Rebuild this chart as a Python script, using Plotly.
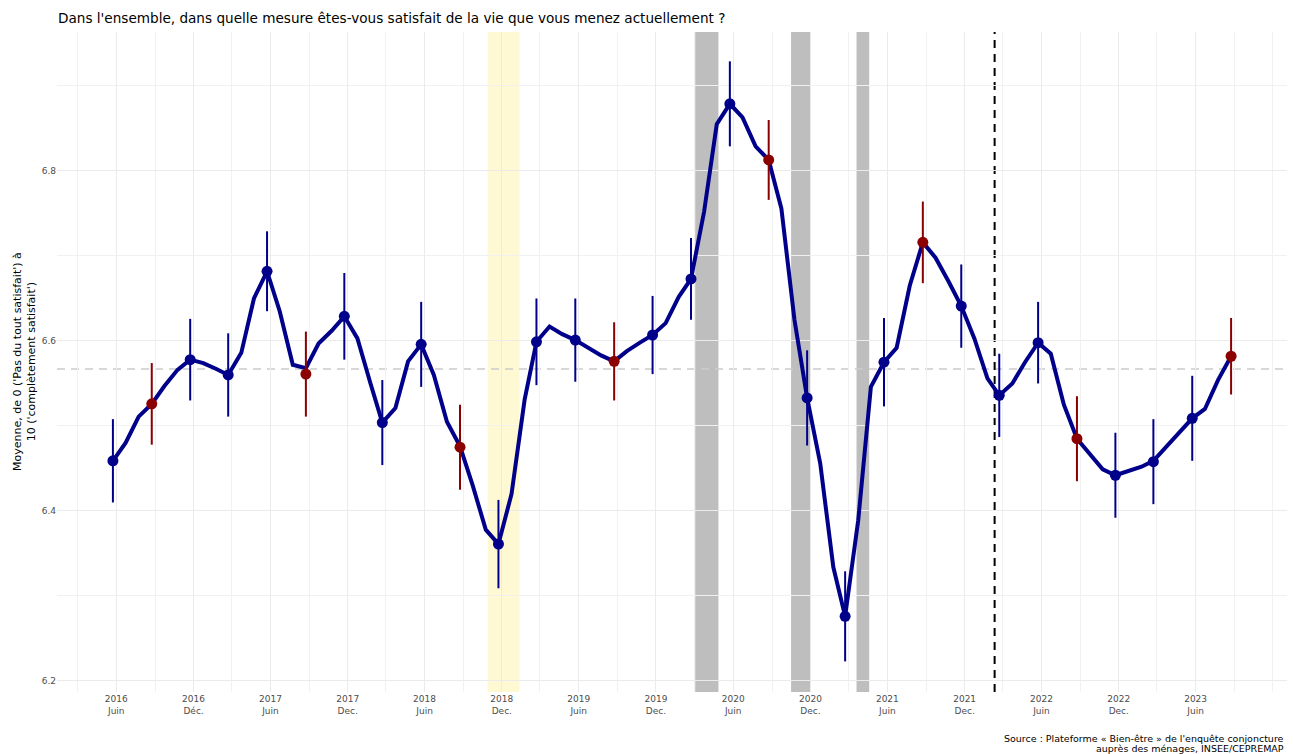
import pandas as pd
import plotly.graph_objects as go

# ---------------- data ----------------
debut, fin = "2016-06-01", "2023-09-01"
jour_releve = 6   # survey point placed a few days into each month

# monthly series (June 2016 -> September 2023)
ligne_mensuelle = [
    6.459, 6.480, 6.511, 6.526, 6.547, 6.566,   # 2016-06 .. 2016-11
    6.578, 6.574, 6.567, 6.560, 6.586, 6.650,   # 2016-12 .. 2017-05
    6.682, 6.635, 6.572, 6.568, 6.597, 6.612,   # 2017-06 .. 2017-11
    6.629, 6.603, 6.550, 6.504, 6.521, 6.576,   # 2017-12 .. 2018-05
    6.596, 6.560, 6.505, 6.476, 6.430, 6.378,   # 2018-06 .. 2018-11
    6.361, 6.420, 6.531, 6.599, 6.617, 6.608,   # 2018-12 .. 2019-05
    6.601, 6.592, 6.583, 6.576, 6.588, 6.598,   # 2019-06 .. 2019-11
    6.607, 6.621, 6.652, 6.673, 6.752, 6.855,   # 2019-12 .. 2020-05
    6.879, 6.863, 6.829, 6.813, 6.756, 6.625,   # 2020-06 .. 2020-11
    6.533, 6.456, 6.334, 6.276, 6.389, 6.546,   # 2020-12 .. 2021-05
    6.575, 6.592, 6.665, 6.716, 6.698, 6.670,   # 2021-06 .. 2021-11
    6.641, 6.603, 6.556, 6.536, 6.550, 6.575,   # 2021-12 .. 2022-05
    6.598, 6.585, 6.525, 6.485, 6.467, 6.449,   # 2022-06 .. 2022-11
    6.442, 6.447, 6.452, 6.459, 6.476, 6.493,   # 2022-12 .. 2023-05
    6.509, 6.520, 6.554, 6.582,                 # 2023-06 .. 2023-09
]

# quarterly estimates with their confidence half-interval
points_trimestriels = [
    6.459, 6.526, 6.578, 6.560, 6.682, 6.561, 6.629, 6.504, 6.596, 6.475,
    6.361, 6.599, 6.601, 6.576, 6.607, 6.673, 6.879, 6.813, 6.533, 6.276,
    6.575, 6.716, 6.641, 6.536, 6.598, 6.485, 6.442, 6.458, 6.509, 6.582,
]
demi_ic = [
    0.049, 0.048, 0.048, 0.049, 0.047, 0.050, 0.051, 0.050, 0.050, 0.050,
    0.052, 0.051, 0.049, 0.046, 0.046, 0.048, 0.050, 0.047, 0.056, 0.053,
    0.052, 0.048, 0.049, 0.049, 0.048, 0.050, 0.050, 0.050, 0.050, 0.045,
]

moyenne_ref = 6.567

tick_dates = [
    "2016-06-15", "2016-12-15", "2017-06-15", "2017-12-15", "2018-06-15",
    "2018-12-15", "2019-06-15", "2019-12-15", "2020-06-15", "2020-12-15",
    "2021-06-15", "2021-12-15", "2022-06-15", "2022-12-15", "2023-06-15",
]
tick_labels = [
    "2016<br>Juin", "2016<br>Déc.", "2017<br>Juin", "2017<br>Dec.", "2018<br>Juin",
    "2018<br>Dec.", "2019<br>Juin", "2019<br>Dec.", "2020<br>Juin", "2020<br>Dec.",
    "2021<br>Juin", "2021<br>Dec.", "2022<br>Juin", "2022<br>Dec.", "2023<br>Juin",
]
minor_dates = [
    "2016-03-15", "2016-09-15", "2017-03-15", "2017-09-15", "2018-03-15",
    "2018-09-15", "2019-03-15", "2019-09-15", "2020-03-15", "2020-09-15",
    "2021-03-15", "2021-09-15", "2022-03-15", "2022-09-15", "2023-03-15",
    "2023-09-15", "2023-12-15",
]
y_ticks = [6.2, 6.4, 6.6, 6.8]
y_minor = [6.3, 6.5, 6.7, 6.9]

gilets_jaunes = ("2018-11-11", "2019-01-26")
confinements = [("2020-03-17", "2020-05-11"),
                ("2020-10-30", "2020-12-15"),
                ("2021-04-03", "2021-05-03")]
guerre_ukraine = "2022-02-24"

titre = "Dans l'ensemble, dans quelle mesure êtes-vous satisfait de la vie que vous menez actuellement ?"
titre_y = "Moyenne, de 0 ('Pas du tout satisfait') à<br>10 ('complètement satisfait')"
source_lignes = ["Source : Plateforme « Bien-être » de l'enquête conjoncture",
                 "auprès des ménages, INSEE/CEPREMAP"]

# ---------------- figure ----------------
BLEU = "#00008B"
ROUGE = "#8B0000"

mois = pd.date_range(debut, fin, freq="MS") + pd.Timedelta(days=jour_releve)
trim = mois[::3]
rouge = trim.month == 9

pts = pd.Series(points_trimestriels, index=trim)
ic = pd.Series(demi_ic, index=trim)

pad = (mois[-1] - mois[0]) * 0.05
x_range = [mois[0] - pad, mois[-1] + pad]

fig = go.Figure()

fig.add_trace(go.Scatter(x=mois, y=ligne_mensuelle, mode="lines",
                         line=dict(color=BLEU, width=4), hoverinfo="skip"))

for mask, col in [(~rouge, BLEU), (rouge, ROUGE)]:
    fig.add_trace(go.Scatter(
        x=trim[mask], y=pts[mask].values, mode="markers",
        marker=dict(size=11, color=col),
        error_y=dict(type="data", array=ic[mask].values, color=col,
                     thickness=2, width=0)))

shapes = []
shapes.append(dict(type="rect", xref="x", yref="paper",
                   x0=gilets_jaunes[0], x1=gilets_jaunes[1], y0=0, y1=1,
                   fillcolor="#FFF9D3", line=dict(width=0), layer="between"))
for a, b in confinements:
    shapes.append(dict(type="rect", xref="x", yref="paper", x0=a, x1=b,
                       y0=0, y1=1, fillcolor="#BEBEBE", line=dict(width=0),
                       layer="between"))
shapes.append(dict(type="line", xref="paper", yref="y", x0=0, x1=1,
                   y0=moyenne_ref, y1=moyenne_ref,
                   line=dict(color="#CCCCCC", width=1.6, dash="8px,6px"),
                   layer="between"))
shapes.append(dict(type="line", xref="x", yref="paper", x0=guerre_ukraine,
                   x1=guerre_ukraine, y0=0, y1=1,
                   line=dict(color="black", width=2, dash="8px,6px"),
                   layer="between"))

annotations = [
    dict(text=titre_y, textangle=-90, xref="paper", yref="paper",
         x=(24 - 57) / 1230, y=0.5, xanchor="center", yanchor="middle",
         showarrow=False, font=dict(size=11, color="black")),
]
for i, txt in enumerate(source_lignes):
    annotations.append(dict(
        text=txt, xref="paper", yref="paper",
        x=(1286 - 57) / 1230, y=(692 - (738 + 10 * i)) / 660,
        xanchor="right", yanchor="middle", align="right",
        showarrow=False, font=dict(size=9.5, color="black")))

fig.update_layout(
    width=1293, height=754,
    margin=dict(l=57, r=6, t=32, b=62),
    plot_bgcolor="white", paper_bgcolor="white",
    showlegend=False,
    font=dict(family="DejaVu Sans", color="black"),
    shapes=shapes,
    title=dict(text=titre, xref="container", x=58 / 1293, xanchor="left",
               yref="container", y=1 - 18 / 754, yanchor="middle",
               font=dict(size=13.6, color="black")),
    xaxis=dict(type="date", range=x_range, tickmode="array",
               tickvals=tick_dates, ticktext=tick_labels,
               showgrid=True, gridcolor="#EBEBEB", gridwidth=1,
               zeroline=False, showline=False, ticks="",
               tickfont=dict(size=9, color="#4D4D4D"),
               minor=dict(tickmode="array", tickvals=minor_dates,
                          showgrid=True, gridcolor="#F1F1F1", gridwidth=1,
                          ticks="")),
    yaxis=dict(range=[6.187, 6.9635], tickmode="array", tickvals=y_ticks,
               ticktext=[f"{v:.1f}" for v in y_ticks],
               showgrid=True, gridcolor="#EBEBEB", gridwidth=1,
               zeroline=False, showline=False, ticks="",
               tickfont=dict(size=9, color="#4D4D4D"),
               minor=dict(tickmode="array", tickvals=y_minor,
                          showgrid=True, gridcolor="#F1F1F1", gridwidth=1,
                          ticks="")),
    annotations=annotations,
)

fig.write_html(
    "out.html",
    config={"displayModeBar": False},
    post_script="document.body.style.margin='0';document.body.style.overflow='hidden';",
)
